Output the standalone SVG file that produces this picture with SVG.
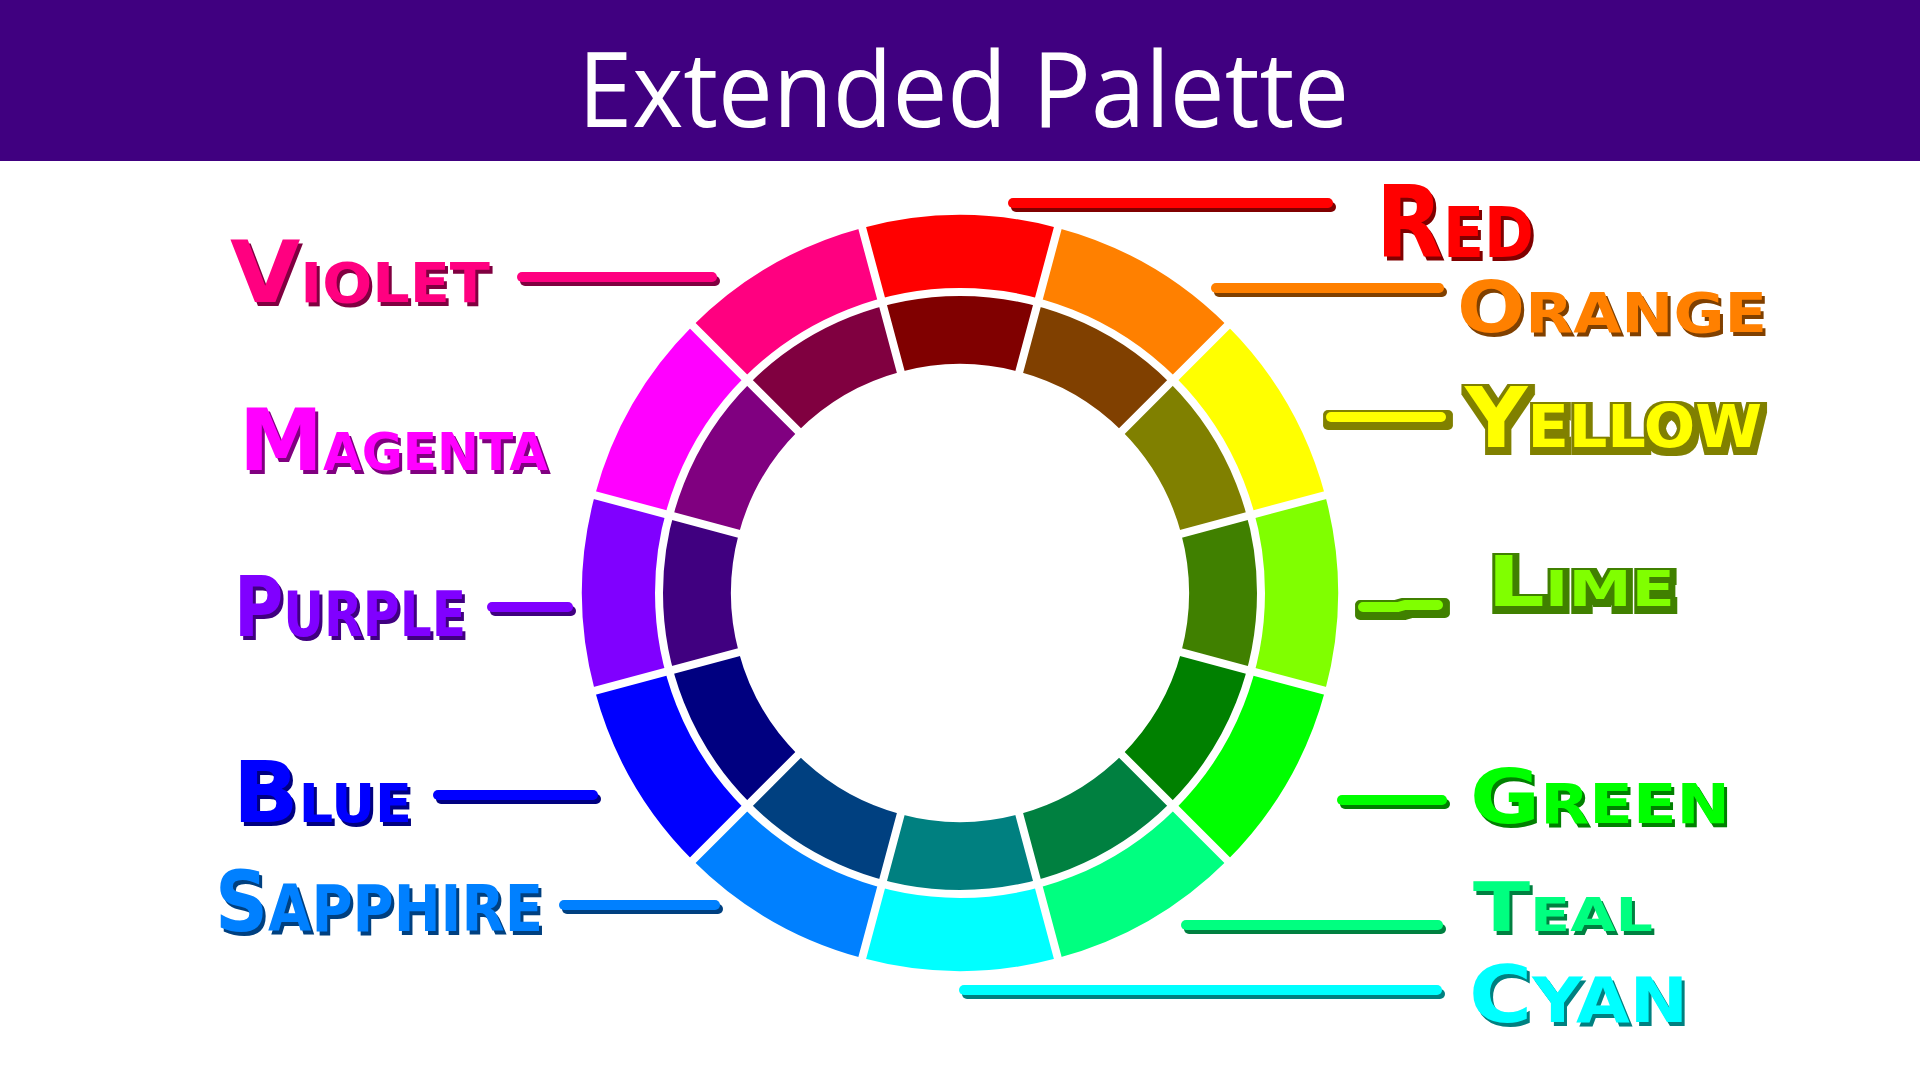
<svg xmlns="http://www.w3.org/2000/svg" width="1920" height="1080" viewBox="0 0 1920 1080">
<defs>
<filter id="sh" filterUnits="userSpaceOnUse" x="0" y="0" width="1920" height="1080" color-interpolation-filters="sRGB">
<feColorMatrix in="SourceGraphic" type="matrix" values="0.5 0 0 0 0  0 0.5 0 0 0  0 0 0.5 0 0  0 0 0 1 0" result="d"/>
<feOffset in="d" dx="3" dy="4" result="o"/>
<feMerge><feMergeNode in="o"/><feMergeNode in="SourceGraphic"/></feMerge>
</filter>
<filter id="sho" filterUnits="userSpaceOnUse" x="0" y="0" width="1920" height="1080" color-interpolation-filters="sRGB">
<feColorMatrix in="SourceGraphic" type="matrix" values="0.5 0 0 0 0  0 0.5 0 0 0  0 0 0.5 0 0  0 0 0 1 0" result="d"/>
<feMorphology in="d" operator="dilate" radius="5" result="m"/>
<feOffset in="m" dx="2" dy="3" result="o"/>
<feMerge><feMergeNode in="o"/><feMergeNode in="SourceGraphic"/></feMerge>
</filter>
</defs>
<style>
.lbl{font-family:"DejaVu Sans","Liberation Sans",sans-serif;font-weight:bold;filter:url(#sh)}
.out{filter:url(#sho)}
.ln{fill:none;stroke-width:10;stroke-linecap:round;stroke-linejoin:round;filter:url(#sh)}
.ln.out{filter:url(#sho)}
.sep{stroke:#fff;stroke-width:8;fill:none}
</style>
<rect x="0" y="0" width="1920" height="1080" fill="#ffffff"/>
<g id="header">
<rect x="0" y="0" width="1920" height="161" fill="#400080"/>
<text x="578" y="127" font-family="'Open Sans','Liberation Sans',sans-serif" font-size="104" fill="#ffffff" textLength="771" lengthAdjust="spacingAndGlyphs">Extended Palette</text>
</g>
<g id="wheel">
<g id="outer-ring">
<path id="seg-red" fill="#ff0000" d="M862.17,227.88 A378,378 0 0 1 1057.83,227.88 L1038.42,300.32 A303,303 0 0 0 881.58,300.32 Z"/>
<path id="seg-orange" fill="#ff8000" d="M1057.83,227.88 A378,378 0 0 1 1227.29,325.71 L1174.25,378.75 A303,303 0 0 0 1038.42,300.32 Z"/>
<path id="seg-yellow" fill="#ffff00" d="M1227.29,325.71 A378,378 0 0 1 1325.12,495.17 L1252.68,514.58 A303,303 0 0 0 1174.25,378.75 Z"/>
<path id="seg-lime" fill="#80ff00" d="M1325.12,495.17 A378,378 0 0 1 1325.12,690.83 L1252.68,671.42 A303,303 0 0 0 1252.68,514.58 Z"/>
<path id="seg-green" fill="#00ff00" d="M1325.12,690.83 A378,378 0 0 1 1227.29,860.29 L1174.25,807.25 A303,303 0 0 0 1252.68,671.42 Z"/>
<path id="seg-teal" fill="#00ff80" d="M1227.29,860.29 A378,378 0 0 1 1057.83,958.12 L1038.42,885.68 A303,303 0 0 0 1174.25,807.25 Z"/>
<path id="seg-cyan" fill="#00ffff" d="M1057.83,958.12 A378,378 0 0 1 862.17,958.12 L881.58,885.68 A303,303 0 0 0 1038.42,885.68 Z"/>
<path id="seg-sapphire" fill="#0080ff" d="M862.17,958.12 A378,378 0 0 1 692.71,860.29 L745.75,807.25 A303,303 0 0 0 881.58,885.68 Z"/>
<path id="seg-blue" fill="#0000ff" d="M692.71,860.29 A378,378 0 0 1 594.88,690.83 L667.32,671.42 A303,303 0 0 0 745.75,807.25 Z"/>
<path id="seg-purple" fill="#8000ff" d="M594.88,690.83 A378,378 0 0 1 594.88,495.17 L667.32,514.58 A303,303 0 0 0 667.32,671.42 Z"/>
<path id="seg-magenta" fill="#ff00ff" d="M594.88,495.17 A378,378 0 0 1 692.71,325.71 L745.75,378.75 A303,303 0 0 0 667.32,514.58 Z"/>
<path id="seg-violet" fill="#ff0080" d="M692.71,325.71 A378,378 0 0 1 862.17,227.88 L881.58,300.32 A303,303 0 0 0 745.75,378.75 Z"/>
</g>
<g id="inner-ring">
<path fill="#800000" d="M882.61,304.19 A299,299 0 0 1 1037.39,304.19 L1019.27,371.80 A229,229 0 0 0 900.73,371.80 Z"/>
<path fill="#804000" d="M1037.39,304.19 A299,299 0 0 1 1171.42,381.58 L1121.93,431.07 A229,229 0 0 0 1019.27,371.80 Z"/>
<path fill="#808000" d="M1171.42,381.58 A299,299 0 0 1 1248.81,515.61 L1181.20,533.73 A229,229 0 0 0 1121.93,431.07 Z"/>
<path fill="#408000" d="M1248.81,515.61 A299,299 0 0 1 1248.81,670.39 L1181.20,652.27 A229,229 0 0 0 1181.20,533.73 Z"/>
<path fill="#008000" d="M1248.81,670.39 A299,299 0 0 1 1171.42,804.42 L1121.93,754.93 A229,229 0 0 0 1181.20,652.27 Z"/>
<path fill="#008040" d="M1171.42,804.42 A299,299 0 0 1 1037.39,881.81 L1019.27,814.20 A229,229 0 0 0 1121.93,754.93 Z"/>
<path fill="#008080" d="M1037.39,881.81 A299,299 0 0 1 882.61,881.81 L900.73,814.20 A229,229 0 0 0 1019.27,814.20 Z"/>
<path fill="#004080" d="M882.61,881.81 A299,299 0 0 1 748.58,804.42 L798.07,754.93 A229,229 0 0 0 900.73,814.20 Z"/>
<path fill="#000080" d="M748.58,804.42 A299,299 0 0 1 671.19,670.39 L738.80,652.27 A229,229 0 0 0 798.07,754.93 Z"/>
<path fill="#400080" d="M671.19,670.39 A299,299 0 0 1 671.19,515.61 L738.80,533.73 A229,229 0 0 0 738.80,652.27 Z"/>
<path fill="#800080" d="M671.19,515.61 A299,299 0 0 1 748.58,381.58 L798.07,431.07 A229,229 0 0 0 738.80,533.73 Z"/>
<path fill="#800040" d="M748.58,381.58 A299,299 0 0 1 882.61,304.19 L900.73,371.80 A229,229 0 0 0 798.07,431.07 Z"/>
</g>
<path class="sep" d="M903.06,380.50 L859.06,216.29 M1016.94,380.50 L1060.94,216.29 M1115.56,437.44 L1235.77,317.23 M1172.50,536.06 L1336.71,492.06 M1172.50,649.94 L1336.71,693.94 M1115.56,748.56 L1235.77,868.77 M1016.94,805.50 L1060.94,969.71 M903.06,805.50 L859.06,969.71 M804.44,748.56 L684.23,868.77 M747.50,649.94 L583.29,693.94 M747.50,536.06 L583.29,492.06 M804.44,437.44 L684.23,317.23"/>
<circle class="sep" cx="960" cy="593" r="301" stroke-width="6"/>
</g>
<g id="connectors">
<path class="ln" stroke="#ff0080" d="M522,277 H712"/>
<path class="ln" stroke="#8000ff" d="M492,607 H568"/>
<path class="ln" stroke="#0000ff" d="M438,795 H593"/>
<path class="ln" stroke="#0080ff" d="M564,905 H715"/>
<path class="ln" stroke="#ff0000" d="M1013,203 H1328"/>
<path class="ln" stroke="#ff8000" d="M1216,288 H1439"/>
<path class="ln out" stroke="#ffff00" d="M1331,417 H1441"/>
<path class="ln out" stroke="#80ff00" d="M1363,607 L1398,607 L1405,605 L1438,605"/>
<path class="ln" stroke="#00ff00" d="M1342,800 H1442"/>
<path class="ln" stroke="#00ff80" d="M1186,925 H1438"/>
<path class="ln" stroke="#00ffff" d="M964,990 H1437"/>
</g>
<g id="label-red"><text class="lbl" fill="#ff0000" x="1376" y="257" textLength="158" lengthAdjust="spacingAndGlyphs"><tspan font-size="100">R</tspan><tspan font-size="69">ED</tspan></text></g>
<g id="label-orange"><text class="lbl" fill="#ff8000" x="1457" y="332" textLength="310" lengthAdjust="spacingAndGlyphs"><tspan font-size="71">O</tspan><tspan font-size="55">RANGE</tspan></text></g>
<g id="label-yellow"><text class="lbl out" fill="#ffff00" x="1465" y="447" textLength="297" lengthAdjust="spacingAndGlyphs"><tspan font-size="84">Y</tspan><tspan font-size="59">ELLOW</tspan></text></g>
<g id="label-lime"><text class="lbl out" fill="#80ff00" x="1487" y="606" textLength="188" lengthAdjust="spacingAndGlyphs"><tspan font-size="70">L</tspan><tspan font-size="49">IME</tspan></text></g>
<g id="label-green"><text class="lbl" fill="#00ff00" x="1470" y="823" textLength="260" lengthAdjust="spacingAndGlyphs"><tspan font-size="75">G</tspan><tspan font-size="56">REEN</tspan></text></g>
<g id="label-teal"><text class="lbl" fill="#00ff80" x="1473" y="931" textLength="180" lengthAdjust="spacingAndGlyphs"><tspan font-size="67">T</tspan><tspan font-size="47">EAL</tspan></text></g>
<g id="label-cyan"><text class="lbl" fill="#00ffff" x="1469" y="1022" textLength="219" lengthAdjust="spacingAndGlyphs"><tspan font-size="78">C</tspan><tspan font-size="63">YAN</tspan></text></g>
<g id="label-violet"><text class="lbl" fill="#ff0080" x="230" y="302" textLength="260" lengthAdjust="spacingAndGlyphs"><tspan font-size="85">V</tspan><tspan font-size="55">IOLET</tspan></text></g>
<g id="label-magenta"><text class="lbl" fill="#ff00ff" x="239" y="470" textLength="309" lengthAdjust="spacingAndGlyphs"><tspan font-size="86">M</tspan><tspan font-size="51">AGENTA</tspan></text></g>
<g id="label-purple"><text class="lbl" fill="#8000ff" x="234" y="636" textLength="232" lengthAdjust="spacingAndGlyphs"><tspan font-size="83">P</tspan><tspan font-size="62">URPLE</tspan></text></g>
<g id="label-blue"><text class="lbl" fill="#0000ff" x="233" y="822" textLength="179" lengthAdjust="spacingAndGlyphs"><tspan font-size="86">B</tspan><tspan font-size="54">LUE</tspan></text></g>
<g id="label-sapphire"><text class="lbl" fill="#0080ff" x="215" y="931" textLength="328" lengthAdjust="spacingAndGlyphs"><tspan font-size="84">S</tspan><tspan font-size="64">APPHIRE</tspan></text></g>
</svg>
